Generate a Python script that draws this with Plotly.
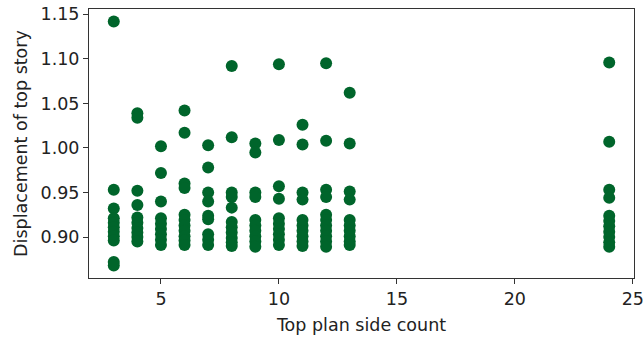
import plotly.graph_objects as go

# Top-story displacement for each top-plan side count
sides_3 = [1.142, 0.953, 0.932, 0.921, 0.916, 0.911, 0.906, 0.901, 0.896, 0.872, 0.868]
sides_4 = [1.039, 1.034, 0.952, 0.936, 0.922, 0.916, 0.910, 0.905, 0.900, 0.895]
sides_5 = [1.002, 0.972, 0.940, 0.921, 0.915, 0.909, 0.903, 0.897, 0.891]
sides_6 = [1.042, 1.017, 0.960, 0.955, 0.925, 0.919, 0.913, 0.907, 0.901, 0.896, 0.891]
sides_7 = [1.003, 0.978, 0.950, 0.940, 0.924, 0.920, 0.903, 0.897, 0.891]
sides_8 = [1.092, 1.012, 0.950, 0.945, 0.933, 0.917, 0.911, 0.905, 0.899, 0.894, 0.890]
sides_9 = [1.005, 0.995, 0.950, 0.945, 0.919, 0.913, 0.907, 0.901, 0.895, 0.889]
sides_10 = [1.094, 1.009, 0.957, 0.943, 0.921, 0.915, 0.909, 0.903, 0.897, 0.891]
sides_11 = [1.026, 1.004, 0.950, 0.942, 0.919, 0.913, 0.907, 0.901, 0.895, 0.890]
sides_12 = [1.095, 1.008, 0.953, 0.945, 0.925, 0.919, 0.913, 0.907, 0.901, 0.895, 0.889]
sides_13 = [1.062, 1.005, 0.951, 0.942, 0.919, 0.913, 0.907, 0.901, 0.895, 0.891]
sides_24 = [1.096, 1.007, 0.953, 0.944, 0.924, 0.918, 0.912, 0.906, 0.900, 0.894, 0.889]

side_counts = [3, 4, 5, 6, 7, 8, 9, 10, 11, 12, 13, 24]
groups = [sides_3, sides_4, sides_5, sides_6, sides_7, sides_8, sides_9,
          sides_10, sides_11, sides_12, sides_13, sides_24]

x_vals, y_vals = [], []
for n, ys in zip(side_counts, groups):
    x_vals += [n] * len(ys)
    y_vals += ys

fig = go.Figure(go.Scatter(
    x=x_vals, y=y_vals, mode="markers",
    marker=dict(size=12, color="#00652b", line=dict(width=0)),
))

FONT = dict(family="DejaVu Sans", size=17.5, color="#222222")

axis_common = dict(
    showline=True, linecolor="#333333", linewidth=1, mirror=True,
    ticks="outside", ticklen=5, tickcolor="#333333", tickwidth=1,
    showgrid=False, zeroline=False, automargin=False,
    tickfont=FONT, ticklabeloverflow="allow",
)

fig.update_layout(
    width=643, height=338,
    margin=dict(l=89, r=9, t=9, b=60),
    plot_bgcolor="white", paper_bgcolor="white",
    showlegend=False,
    xaxis=dict(
        range=[1.95, 25.05], tickvals=[5, 10, 15, 20, 25],
        title=dict(text="Top plan side count", standoff=10, font=FONT),
        **axis_common,
    ),
    yaxis=dict(
        range=[0.854, 1.156],
        tickvals=[0.90, 0.95, 1.00, 1.05, 1.10, 1.15], tickformat=".2f",
        title=dict(text="Displacement of top story", standoff=8, font=FONT),
        **axis_common,
    ),
)

fig.write_html("out.html")
